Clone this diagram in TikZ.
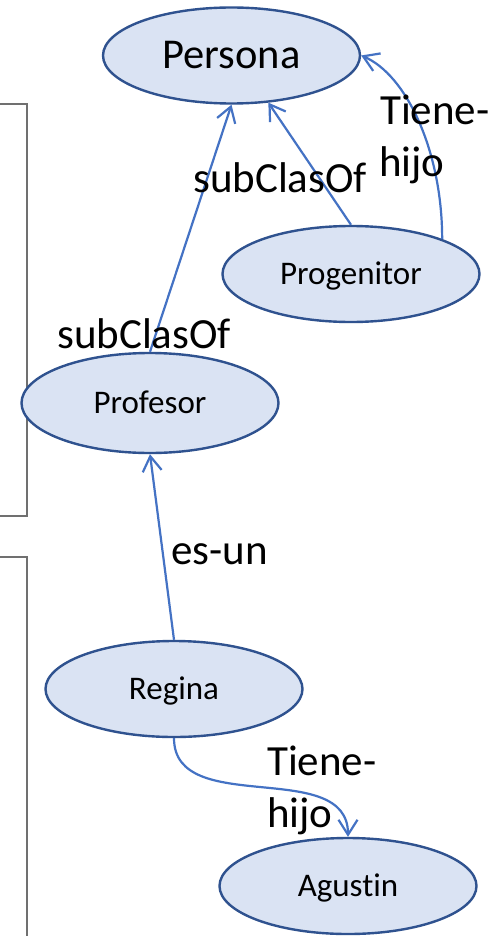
\documentclass[tikz,border=0pt]{standalone}
\usepackage{fontspec}
\setmainfont[Ligatures=NoCommon]{Carlito}
\usetikzlibrary{shapes.geometric,arrows.meta}
\definecolor{clsfill}{HTML}{DAE3F3}
\definecolor{clsline}{HTML}{2F528F}
\definecolor{edgeblue}{HTML}{4472C4}
\definecolor{framegray}{HTML}{707070}
\begin{document}
\begin{tikzpicture}[x=1pt,y=1pt,
  cls/.style={ellipse, draw=clsline, fill=clsfill, line width=2.4pt,
    minimum width=257pt, minimum height=96pt, inner sep=0pt,
    text height=21.3pt, text depth=0pt, font=\fontsize{33}{40}\selectfont},
  rel/.style={draw=edgeblue, line width=2.2pt,
    -{Straight Barb[length=15pt,width=19pt]}},
  lbl/.style={anchor=base west, inner sep=0pt, font=\fontsize{43}{50}\selectfont},
  frame/.style={draw=framegray, line width=1.2pt}]
\useasboundingbox (0,0) rectangle (502,-936);
\fill[white] (0,0) rectangle (502,-936);

% side brackets
\draw[frame] (0,-104) -- (27,-104) -- (27,-516) -- (0,-516);
\draw[frame] (0,-557) -- (27,-557) -- (27,-940);

% classes and individuals
\node[cls, font=\fontsize{42.5}{50}\selectfont, text height=27pt] (pers) at (231.5,-55.5) {Persona};
\node[cls] (prog) at (351,-274) {Progenitor};
\node[cls, minimum height=100pt] (prof) at (150,-403) {Profesor};
\node[cls] (reg) at (174,-689) {Regina};
\node[cls] (agu) at (348,-886) {Agustin};

% relations
\draw[rel] (prof.north) -- (pers.south);
\draw[rel] (prog.north) -- (pers.-52);
\draw[rel] (prog.21) to[out=90,in=-23,out distance=88pt,in distance=49pt] (pers.east);
\draw[rel] (reg.north) -- (prof.south);
\draw[rel] (reg.south) to[out=-90,in=90,out distance=80pt,in distance=80pt] (agu.north);

% relation labels
\node[lbl] (lsub1) at (193,-193) {subClasOf};
\node[lbl] (lsub2) at (57,-348) {subClasOf};
\node[lbl] (ltiene1) at (380,-125) {Tiene-};
\node[lbl] (lhijo1) at (379,-177) {hijo};
\node[lbl] (lesun) at (171,-564) {es-un};
\node[lbl] (ltiene2) at (267,-775) {Tiene-};
\node[lbl] (lhijo2) at (267,-827) {hijo};
\end{tikzpicture}
\end{document}
